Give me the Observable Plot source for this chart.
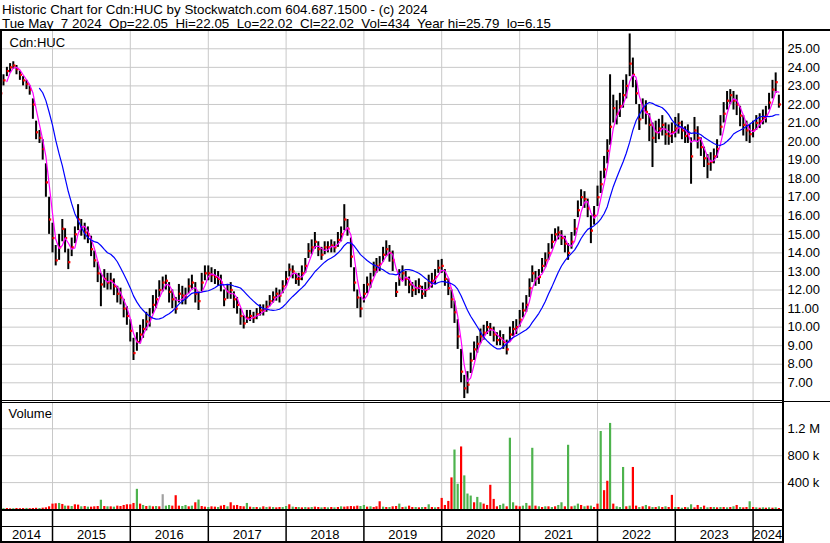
<!DOCTYPE html>
<html>
<head>
<meta charset="utf-8">
<script src="https://cdn.jsdelivr.net/npm/d3@7"></script>
<script src="https://cdn.jsdelivr.net/npm/@observablehq/plot@0.6"></script>
<style>
  html, body { margin: 0; padding: 0; background: #fff; }
  body { width: 830px; height: 543px; position: relative; overflow: hidden;
         font-family: "Liberation Sans", Arial, sans-serif; color: #000; }
  #hdr { position: absolute; left: 2px; top: 3.3px; font-size: 13.35px; line-height: 13.3px; white-space: pre; }
  .pl { position: absolute; left: 0; width: 830px; }
  .ln { position: absolute; background: #000; }
</style>
</head>
<body>
<div id="hdr"></div>
<div class="pl" id="price" style="top:31px"></div>
<div class="pl" id="vol" style="top:402px"></div>
<div class="pl" id="xband" style="top:509px"></div>
<div class="ln" style="left:0;top:29px;width:830px;height:2px"></div>
<div class="ln" style="left:0;top:29px;width:2px;height:514px"></div>
<div class="ln" style="left:782px;top:29px;width:2px;height:514px"></div>
<div class="ln" style="left:0;top:400px;width:782px;height:1px"></div>
<div class="ln" style="left:0;top:402px;width:782px;height:1px"></div>
<div class="ln" style="left:784px;top:401px;width:46px;height:1px"></div>
<div class="ln" style="left:0;top:509px;width:784px;height:2px"></div>
<div class="ln" style="left:0;top:526px;width:782px;height:1px"></div>
<div class="ln" style="left:0;top:541px;width:784px;height:2px"></div>
<script>
// ---------- header texts ----------
const titleLine = "Historic Chart for Cdn:HUC by Stockwatch.com 604.687.1500 - (c) 2024";
const quoteLine = "Tue May  7 2024  Op=22.05  Hi=22.05  Lo=22.02  Cl=22.02  Vol=434  Year hi=25.79  lo=6.15";
const symbolLabel = "Cdn:HUC";
const volumeLabel = "Volume";

// ---------- axes ----------
const years = [2014, 2015, 2016, 2017, 2018, 2019, 2020, 2021, 2022, 2023, 2024];
const priceTicks = [7, 8, 9, 10, 11, 12, 13, 14, 15, 16, 17, 18, 19, 20, 21, 22, 23, 24, 25];
const volTicks = [400, 800, 1200];              // thousands
const volTickLabels = ["400 k", "800 k", "1.2 M"];

// ---------- series: semi-monthly (1st / 16th) from May 2014 ----------
const startYear = 2014, startMonth = 4; // May (0-based)
const close = [
  22.6,23.3,23.8,24.0,24.1,23.9,23.6,23.3,23.1,22.8,22.0,20.5,20.2,19.6,17.8,15.8,
  14.8,13.6,14.3,15.3,14.8,13.5,14.3,15.0,15.8,15.4,15.1,15.0,14.2,13.6,12.9,12.3,12.6,12.4,12.5,12.2,11.8,11.6,11.0,10.6,
  9.8,8.6,9.2,9.6,9.9,10.3,10.5,11.2,11.5,12.0,12.4,12.5,11.9,11.5,11.0,11.8,11.7,11.6,12.2,12.4,11.8,11.4,12.4,12.9,
  12.9,12.8,12.7,12.6,12.4,11.5,11.9,12.0,11.5,11.2,10.6,10.2,10.5,10.6,10.5,10.7,10.9,10.9,11.1,11.4,11.6,11.8,11.7,12.2,
  12.6,13.1,13.0,12.6,12.6,12.9,13.3,14.1,14.3,14.6,14.2,13.9,14.3,14.3,14.4,14.3,14.7,15.0,15.8,15.3,13.8,12.4,11.6,11.0,
  11.8,12.3,12.5,13.1,13.3,13.4,13.9,14.2,14.0,13.6,11.9,12.6,12.9,12.6,12.3,12.0,12.1,12.2,11.8,12.0,12.4,12.5,12.7,13.2,
  13.3,12.6,12.1,11.5,10.8,9.5,7.6,6.7,6.9,8.2,8.8,9.1,9.5,9.7,10.0,9.9,9.6,9.3,9.4,9.2,8.8,9.6,9.9,10.0,
  10.4,10.9,11.2,12.1,12.9,12.6,12.7,13.3,13.6,14.0,14.6,15.0,15.1,14.8,14.5,14.0,14.6,15.3,16.3,17.0,16.9,16.4,15.2,16.0,
  17.0,17.7,18.5,19.5,20.8,21.8,21.5,21.9,22.5,23.0,24.2,23.6,22.6,21.2,21.8,21.6,20.9,20.2,20.5,20.7,20.9,20.4,20.3,20.5,
  20.7,21.0,20.6,20.3,20.4,19.2,20.6,20.2,19.7,19.1,18.8,18.9,19.2,19.6,20.8,21.5,22.2,22.5,22.2,22.0,21.4,20.9,20.6,20.4,
  20.6,21.0,21.1,21.3,21.4,22.1,22.8,23.2,22.0
];
const high = [
  23.0,23.6,24.0,24.2,24.3,24.1,23.8,23.5,23.3,23.0,22.3,21.1,20.6,20.1,18.8,17.0,
  15.6,14.4,15.0,15.8,15.3,14.2,14.8,15.4,16.6,15.8,15.6,15.4,14.9,14.1,13.5,12.9,13.1,12.9,12.9,12.6,12.2,12.1,11.5,11.1,
  10.4,9.4,9.7,10.1,10.4,10.8,11.0,11.7,12.0,12.5,12.7,12.8,12.4,12.0,11.6,12.3,12.2,12.1,12.6,12.8,12.4,11.9,12.9,13.3,
  13.3,13.2,13.1,13.0,12.8,12.0,12.3,12.4,11.9,11.6,11.0,10.6,10.9,10.9,10.8,11.0,11.2,11.2,11.4,11.7,11.9,12.1,12.0,12.5,
  13.0,13.4,13.3,12.9,12.9,13.3,13.7,14.5,14.7,15.1,14.6,14.3,14.6,14.6,14.7,14.6,15.1,15.4,16.6,15.8,14.8,13.2,12.0,11.6,
  12.3,12.7,12.9,13.5,13.7,13.8,14.3,14.65,14.4,14.1,12.4,13.1,13.3,13.0,12.7,12.4,12.5,12.6,12.2,12.4,12.8,12.9,13.1,13.6,
  13.65,13.1,12.6,12.0,11.4,10.4,8.8,7.4,7.6,8.6,9.2,9.5,9.9,10.1,10.3,10.2,10.0,9.7,9.8,9.6,9.3,10.0,10.3,10.4,
  10.9,11.3,11.7,12.6,13.3,13.0,13.1,13.7,14.0,14.5,15.0,15.3,15.4,15.2,14.9,14.5,15.1,15.8,16.8,17.4,17.3,16.9,16.0,16.5,
  17.6,18.4,19.2,20.1,23.6,22.5,22.2,22.6,23.3,23.6,25.8,24.5,23.3,22.0,22.3,22.2,21.5,21.0,21.1,21.2,21.4,21.0,20.9,21.0,
  21.3,21.5,21.1,20.8,20.9,20.2,21.3,20.8,20.2,19.7,19.3,19.4,19.6,20.1,21.4,22.1,22.7,22.8,22.7,22.5,21.9,21.4,21.1,20.9,
  21.1,21.4,21.5,21.7,21.9,22.6,23.3,23.7,22.5
];
const low = [
  22.2,23.0,23.5,23.7,23.9,23.6,23.3,23.0,22.8,22.5,21.2,20.1,19.9,19.0,17.0,15.0,
  14.0,13.3,13.6,14.6,14.0,13.1,13.8,14.5,15.2,14.9,14.7,14.5,13.8,13.2,12.4,11.1,12.1,12.0,12.0,11.7,11.3,11.2,10.5,10.1,
  9.2,8.2,8.7,9.1,9.4,9.8,10.0,10.7,11.0,11.6,11.9,12.0,11.3,11.0,10.7,11.3,11.2,11.2,11.8,12.0,11.3,10.9,11.9,12.5,
  12.5,12.4,12.3,12.2,11.9,11.1,11.5,11.5,11.0,10.7,10.1,9.9,10.2,10.3,10.2,10.4,10.6,10.6,10.8,11.1,11.3,11.4,11.3,11.8,
  12.2,12.7,12.6,12.3,12.2,12.5,12.9,13.7,13.9,14.2,13.8,13.6,13.9,14.0,14.0,14.0,14.3,14.6,15.2,14.9,13.2,11.9,11.0,10.5,
  11.3,11.8,12.1,12.7,12.9,13.0,13.5,13.8,13.5,13.0,11.6,12.2,12.5,12.2,11.8,11.6,11.7,11.8,11.5,11.6,12.0,12.1,12.3,12.9,
  12.9,12.2,11.7,11.0,10.2,8.8,7.0,6.15,6.4,7.5,8.2,8.6,9.1,9.3,9.6,9.5,9.2,9.0,9.0,8.8,8.5,9.2,9.5,9.6,
  10.0,10.5,10.8,11.6,12.4,12.2,12.3,12.9,13.2,13.6,14.2,14.6,14.7,14.4,14.0,13.6,14.2,14.9,15.9,16.5,16.4,15.9,14.5,15.5,
  16.5,17.2,18.0,18.8,19.8,21.0,20.9,21.3,21.8,22.3,23.5,22.9,22.0,20.6,21.2,20.9,20.0,18.6,19.9,20.1,20.3,19.8,19.8,19.9,
  20.2,20.4,20.1,19.9,19.9,17.7,20.0,19.6,19.2,18.6,18.0,18.4,18.8,19.1,20.3,21.0,21.7,22.0,21.7,21.4,20.8,20.3,20.0,19.9,
  20.2,20.6,20.7,20.9,21.0,21.7,22.3,22.6,21.8
];
// volume in thousands of shares, and bar colour code (G up, R down, N unchanged)
const volume = [
  15,12,14,10,12,15,12,14,16,12,15,18,15,20,25,40,
  80,85,90,75,50,50,45,70,65,40,45,35,35,40,45,138,45,40,40,35,50,45,60,70,
  70,90,300,80,60,45,50,40,45,40,220,50,60,50,205,50,45,60,40,50,100,140,45,35,
  30,40,35,30,50,60,40,100,55,60,45,40,90,35,30,30,25,40,30,35,30,25,30,30,
  45,70,35,30,30,25,30,25,30,35,30,25,30,25,30,25,30,40,35,40,45,40,50,45,
  60,35,40,30,40,115,35,30,30,40,45,80,30,35,50,30,30,25,30,30,70,30,25,30,
  165,60,120,470,884,375,930,500,230,200,100,180,100,80,60,360,150,40,60,80,40,1060,100,50,
  40,50,90,50,910,50,40,30,40,40,30,40,60,100,40,955,40,50,80,60,40,50,50,30,
  80,1160,280,420,1280,80,40,30,625,40,50,625,50,30,40,60,40,30,30,40,30,40,30,210,
  30,30,20,30,25,70,25,60,30,50,25,30,30,25,30,30,25,30,40,60,30,25,30,115,
  30,25,20,25,20,25,20,25,15
];
const volDir = [
  "RGRRGRRRGRRRGRRR",
  "RRGRGRGRRGRGRRRGRGRGRRRR",
  "RRGRGRGRGRNGGRRRGGRGRGRR",
  "GRRGRRGRRRRRGRGRGRGRGRRG",
  "GRGRGRGRGRRGRGRGRGRRRRRG",
  "GRGRRRGRGRRGRGRRGRGRGRGR",
  "RRRRGGRGGGRGGRRRRRGGRGGR",
  "RGGRGRGRGRGRGGRGRGGRGRGR",
  "RGRRGRGGGRGRRGRGRGRGRGRR",
  "GRGRGGRRGRGRGRGRGRGRGRRG",
  "RGRGRGRGR"
].join("").split("");
const volColors = {G: "#4db34d", R: "#ff0000", N: "#a0a0a0"};
const maShort = 3, maLong = 13; // moving-average windows (in semi-monthly points)

// ---------- build table ----------
const rows = close.map((c, i) => ({
  date: new Date(Date.UTC(startYear, startMonth + Math.floor(i / 2), i % 2 ? 16 : 1)),
  close: c, high: high[i], low: low[i], vol: volume[i], dir: volDir[i]
}));

const xDomain = [new Date(Date.UTC(2014, 4, 2)), new Date(Date.UTC(2024, 4, 18))];
const yearStarts = years.slice(1).map(y => new Date(Date.UTC(y, 0, 1)));
const yearLabels = years.map(y => {
  const a = Math.max(+new Date(Date.UTC(y, 0, 1)), +xDomain[0]);
  const b = Math.min(+new Date(Date.UTC(y + 1, 0, 1)), +xDomain[1]);
  return {label: String(y), mid: new Date((a + b) / 2)};
});
// trailing moving average, undefined until the window is full (Plot map transform)
const trailingMean = k => ({
  mapIndex(I, S, T) {
    for (let j = 0; j < I.length; ++j) {
      if (j < k - 1) { T[I[j]] = NaN; continue; }
      let s = 0;
      for (let m = j - k + 1; m <= j; ++m) s += +S[I[m]];
      T[I[j]] = s / k;
    }
  }
});

const W = 830, MR = 48;
const font = {fontFamily: "Liberation Sans, Arial, sans-serif", fontSize: "13px", background: "white", color: "black"};
const grid = "#c8c8c8";

document.getElementById("hdr").textContent = titleLine + "\n" + quoteLine;

// ---------- price panel ----------
const priceChart = Plot.plot({
  width: W, height: 369,
  marginLeft: 0, marginRight: MR, marginTop: 0, marginBottom: 0,
  style: font,
  x: {type: "utc", domain: xDomain, axis: null},
  y: {domain: [6.046, 25.932], axis: null},
  marks: [
    Plot.ruleY(priceTicks, {stroke: grid, strokeWidth: 1}),
    Plot.ruleX(yearStarts, {stroke: grid, strokeWidth: 1}),
    Plot.ruleX(rows, {x: "date", y1: "low", y2: "high", stroke: "black", strokeWidth: 2}),
    Plot.dot(rows, {x: "date", y: "close", symbol: "square", r: 1.25, fill: "red", stroke: "none", dx: 1}),
    Plot.lineY(rows, Plot.mapY(trailingMean(maShort), {x: "date", y: "close", stroke: "#ff00ff", strokeWidth: 1.2})),
    Plot.lineY(rows, Plot.mapY(trailingMean(maLong), {x: "date", y: "close", stroke: "#0000ff", strokeWidth: 1.2})),
    Plot.axisY(priceTicks, {anchor: "right", label: null, tickSize: 0, tickPadding: 5, tickFormat: d => d.toFixed(2), fontSize: 13}),
    Plot.text([symbolLabel], {text: d => d, frameAnchor: "top-left", lineAnchor: "middle", dx: 9, dy: 11, textAnchor: "start", fontSize: 13})
  ]
});
document.getElementById("price").appendChild(priceChart);

// ---------- volume panel ----------
const volChart = Plot.plot({
  width: W, height: 107,
  marginLeft: 0, marginRight: MR, marginTop: 0, marginBottom: 0,
  style: font,
  x: {type: "utc", domain: xDomain, axis: null},
  y: {domain: [0, 1591], axis: null},
  marks: [
    Plot.ruleY(volTicks, {stroke: grid, strokeWidth: 1}),
    Plot.ruleX(yearStarts, {stroke: grid, strokeWidth: 1}),
    Plot.ruleX(rows, {x: "date", y1: 0, y2: "vol", stroke: d => volColors[d.dir], strokeWidth: 2.2}),
    Plot.axisY(volTicks, {anchor: "right", label: null, tickSize: 0, tickPadding: 5, fontSize: 13,
      tickFormat: d => volTickLabels[volTicks.indexOf(d)]}),
    Plot.text([volumeLabel], {text: d => d, frameAnchor: "top-left", lineAnchor: "middle", dx: 8, dy: 11, textAnchor: "start", fontSize: 13})
  ]
});
document.getElementById("vol").appendChild(volChart);

// ---------- year band ----------
const bandChart = Plot.plot({
  width: W, height: 34,
  marginLeft: 0, marginRight: MR, marginTop: 0, marginBottom: 0,
  style: font,
  x: {type: "utc", domain: xDomain, axis: null},
  y: {domain: [0, 1], axis: null},
  marks: [
    Plot.ruleX(yearStarts, {stroke: "black", strokeWidth: 1.5}),
    Plot.text(yearLabels, {x: "mid", text: "label", frameAnchor: "top", lineAnchor: "middle", dy: 25.5, fontSize: 13})
  ]
});
document.getElementById("xband").appendChild(bandChart);
</script>
</body>
</html>
